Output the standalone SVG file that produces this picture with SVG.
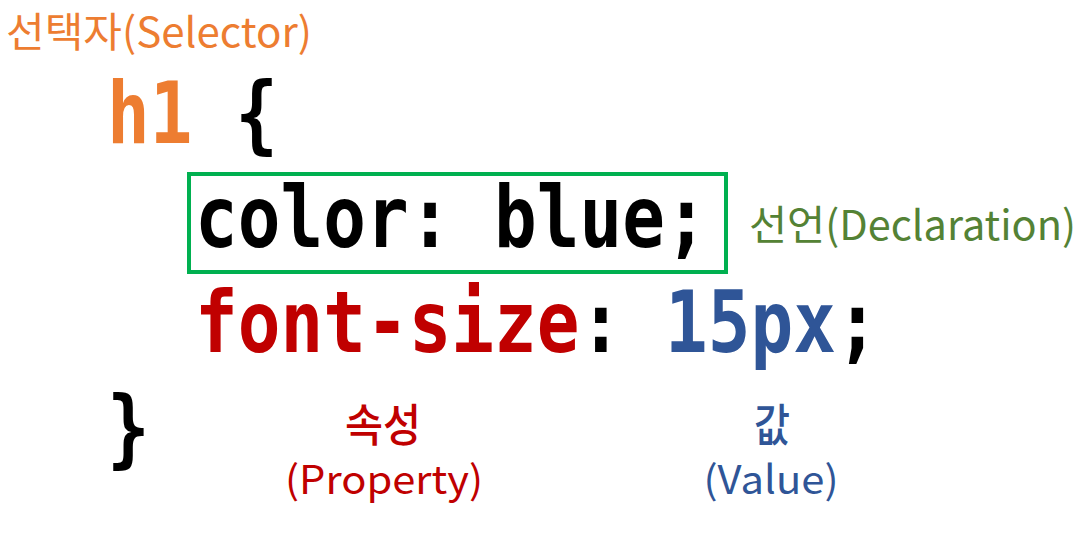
<svg xmlns="http://www.w3.org/2000/svg" width="1086" height="533" viewBox="0 0 1086 533">
<style>
.code{font-family:"DejaVu Sans Mono","Liberation Mono",monospace;font-size:85px;font-weight:bold}
.lab{font-family:"Noto Sans CJK KR","Noto Sans",sans-serif;font-size:41px}
.ko{font-family:"Noto Sans CJK KR",sans-serif;font-size:45px;font-weight:500}
.en{font-family:"Noto Sans CJK KR","Noto Sans",sans-serif;font-size:39px}
</style>
<rect width="1086" height="533" fill="#fff"/>
<g id="selector-label"><text class="lab" x="6" y="47" fill="#ED7D31" textLength="306" lengthAdjust="spacingAndGlyphs">선택자(Selector)</text></g>
<g id="selector"><text class="code" transform="translate(107,143) scale(0.835,1)"><tspan fill="#ED7D31">h1</tspan><tspan fill="#000"> {</tspan></text></g>
<g id="declaration"><rect x="189" y="174" width="537" height="98" fill="none" stroke="#00B050" stroke-width="4"/>
<text class="code" transform="translate(195,247) scale(0.835,1)" fill="#000">color: blue;</text></g>
<g id="declaration-label"><text class="lab" x="749" y="240" fill="#548235" textLength="327" lengthAdjust="spacingAndGlyphs">선언(Declaration)</text></g>
<g id="property-line"><text class="code" transform="translate(195,352) scale(0.835,1)"><tspan fill="#C00000">font-size</tspan><tspan fill="#000">: </tspan><tspan fill="#2F5597">15px</tspan><tspan fill="#000">;</tspan></text></g>
<g id="close"><text class="code" transform="translate(107,457) scale(0.835,1)" fill="#000">}</text></g>
<g id="property-label"><text class="ko" text-anchor="middle" x="383" y="442" fill="#C00000" textLength="76" lengthAdjust="spacingAndGlyphs">속성</text><text class="en" text-anchor="middle" x="384" y="494" fill="#C00000" textLength="198" lengthAdjust="spacingAndGlyphs">(Property)</text></g>
<g id="value-label"><text class="ko" text-anchor="middle" x="772" y="442" fill="#2F5597" textLength="36" lengthAdjust="spacingAndGlyphs">값</text><text class="en" text-anchor="middle" x="771" y="494" fill="#2F5597" textLength="135" lengthAdjust="spacingAndGlyphs">(Value)</text></g>
<g id="connectors"/>
</svg>
